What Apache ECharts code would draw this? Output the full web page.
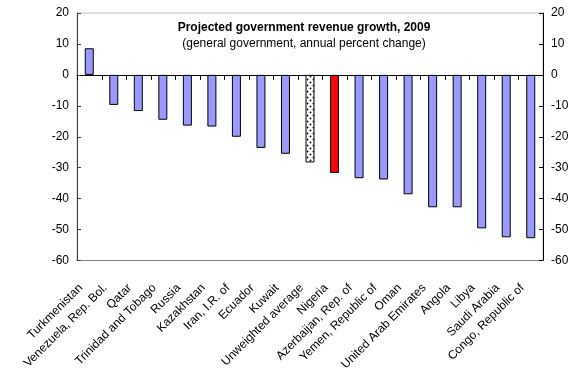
<!DOCTYPE html>
<html><head><meta charset="utf-8">
<script src="https://cdn.jsdelivr.net/npm/echarts@6/dist/echarts.min.js"></script>
<style>html,body{margin:0;padding:0;background:#fff}#c{width:582px;height:373px}</style>
</head><body><div id="c"></div>
<script>
var categories = ["Turkmenistan","Venezuela, Rep. Bol.","Qatar","Trinidad and Tobago","Russia","Kazakhstan","Iran, I.R. of","Ecuador","Kuwait","Unweighted average","Nigeria","Azerbaijan, Rep. of","Yemen, Republic of","Oman","United Arab Emirates","Angola","Libya","Saudi Arabia","Congo, Republic of"];
var values = [8.6,-9.7,-11.7,-14.5,-16.4,-16.7,-20.0,-23.6,-25.5,-28.3,-31.7,-33.4,-33.8,-38.6,-42.8,-42.8,-49.6,-52.5,-52.8];
var yTicks = [-60,-50,-40,-30,-20,-10,0,10,20];
var titleText = "Projected government revenue growth, 2009";
var subtitleText = "(general government, annual percent change)";

var yMin = yTicks[0], yMax = yTicks[yTicks.length-1];
var gridTop = 13, gridH = 248;
var zeroH = Math.round(gridH * yMax / (yMax - yMin));

var pat = document.createElement('canvas');
pat.width = 6; pat.height = 6;
var g = pat.getContext('2d');
g.fillStyle = '#fff'; g.fillRect(0,0,6,6);
g.fillStyle = '#000';
g.beginPath(); g.arc(1.5,1.5,0.9,0,Math.PI*2); g.fill();
g.beginPath(); g.arc(4.5,4.5,0.9,0,Math.PI*2); g.fill();

var data = values.map(function(v,i){
  var c = categories[i];
  var item = {value: v};
  if (c === 'Nigeria') item.itemStyle = {color:'#FF0000'};
  else if (c === 'Unweighted average') item.itemStyle = {color:{image:pat, repeat:'repeat'}};
  return item;
});
var tickData = categories.map(function(c,i){ return [i, 0]; });
var lastIdx = categories.length - 1;

var chart = echarts.init(document.getElementById('c'));
var font = 'Liberation Sans, Arial, sans-serif';
chart.setOption({
  animation:false,
  title:[{text:titleText, left:299, top:17, textAlign:'center',
          textStyle:{fontFamily:font,fontSize:12,fontWeight:'bold',color:'#000'}},
         {text:subtitleText, left:299, top:33, textAlign:'center',
          textStyle:{fontFamily:font,fontSize:12,fontWeight:'normal',color:'#000'}}],
  grid:[{left:77,right:39,top:gridTop,height:gridH,containLabel:false,show:true,borderColor:'#c0c0c0',borderWidth:1},
        {left:77,right:39,top:gridTop,height:zeroH,containLabel:false,show:false}],
  xAxis:[{type:'category',data:categories,position:'bottom',gridIndex:0,
          axisLine:{show:true,onZero:false,lineStyle:{color:'#808080',width:1}},
          axisTick:{show:false},
          axisLabel:{rotate:45,interval:0,margin:17,padding:[0,12,0,0],fontFamily:font,fontSize:12,color:'#000'}},
         {type:'category',data:categories,position:'bottom',gridIndex:1,
          axisLine:{show:true,onZero:false,lineStyle:{color:'#000',width:1}},
          axisTick:{show:false},
          axisLabel:{show:false}}],
  yAxis:[{type:'value',min:yMin,max:yMax,interval:10,position:'left',gridIndex:0,
          axisLine:{show:true,lineStyle:{color:'#404040',width:1}},
          axisTick:{show:true,inside:true,length:4,lineStyle:{color:'#404040'}},
          splitLine:{show:false},
          axisLabel:{fontFamily:font,fontSize:12,color:'#000',margin:8}},
         {type:'value',min:yMin,max:yMax,interval:10,position:'right',gridIndex:0,
          axisLine:{show:true,lineStyle:{color:'#000',width:1}},
          axisTick:{show:true,inside:true,length:4,lineStyle:{color:'#000'}},
          splitLine:{show:false},
          axisLabel:{fontFamily:font,fontSize:12,color:'#000',margin:8}},
         {type:'value',min:0,max:yMax,gridIndex:1,show:false}],
  series:[{type:'bar',data:data,xAxisIndex:0,yAxisIndex:0,barWidth:9,z:1,
           itemStyle:{color:'#9999FF',borderColor:'#000',borderWidth:1}},
          {type:'custom',xAxisIndex:0,yAxisIndex:0,data:tickData,silent:true,clip:false,z:5,
           renderItem:function(params, api){
             var idx = api.value(0);
             var p = api.coord([idx, 0]);
             var w = api.size([1, 0])[0];
             var xs = [p[0] - w/2];
             if (idx === lastIdx) xs.push(p[0] + w/2);
             return {type:'group', children: xs.map(function(x){
               var xx = Math.round(x) + 0.5;
               return {type:'line', shape:{x1:xx,y1:p[1],x2:xx,y2:p[1]+5},
                       style:{stroke:'#000',lineWidth:1}};
             })};
           }}]
});
</script></body></html>
